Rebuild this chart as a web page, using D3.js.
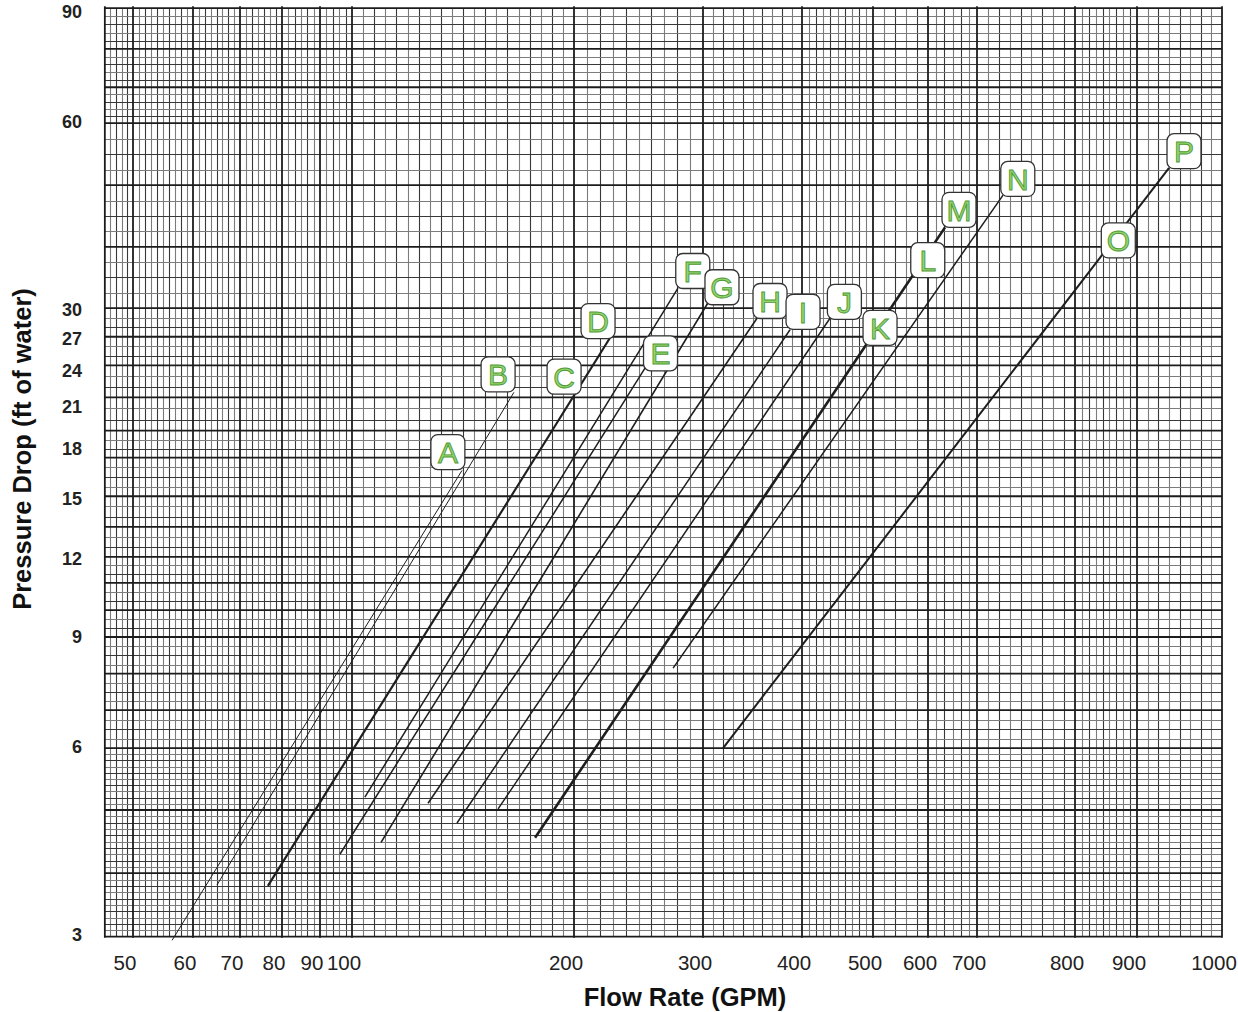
<!DOCTYPE html>
<html>
<head>
<meta charset="utf-8">
<script src="https://cdn.jsdelivr.net/npm/d3@7"></script>
<style>
  body { margin: 0; background: #fff; }
  text { font-family: "Liberation Sans", Arial, sans-serif; }
</style>
</head>
<body>
<div id="chart"></div>
<script>
"use strict";

// axis ticks
var flowTicks = [50, 60, 70, 80, 90, 100, 200, 300, 400, 500, 600, 700, 800, 900, 1000];
var dropTicks = [3, 6, 9, 12, 15, 18, 21, 24, 27, 30, 60, 90];

// graph paper: heavy rulings and the number of fine divisions between them
var paperFlow = [45.9, 50, 60, 70, 80, 90, 100, 200, 300, 400, 500, 600, 700, 800, 900, 1000];
var paperFlowDiv = [5, 10, 8, 7, 6, 5, 20, 10, 10, 10, 5, 6, 9, 9, 8];
var paperDrop = [90.6, 78, 67.7, 59.3, 47.2, 37.6, 30, 27, 24.3, 21.6, 19.1, 17.3, 15, 13.4, 12, 10.9, 9.86, 8.93, 7.8, 6.82, 5.93, 4.72, 3.74, 2.96];
var paperDropDiv = [5, 5, 5, 4, 4, 4, 3, 3, 3, 3, 3, 4, 3, 3, 3, 3, 3, 4, 4, 4, 10, 10, 10];

// curves, start and end point: flow (GPM) / pressure drop (ft)
var curveNames = ["A", "B", "CD", "E", "F", "G", "H", "I", "J", "KLM", "N", "OP"];
var curveFlow = [[56.3, 141.0], [64.9, 165.8], [76.5, 224.0], [96.1, 250.0], [104.1, 277.3], [109.5, 304.4],
                 [126.8, 351.0], [138.8, 386.3], [157.8, 436.8], [177.1, 633.0], [273.1, 725.3], [318.0, 936.5]];
var curveDrop = [[2.92, 16.5], [3.58, 22.0], [3.57, 26.9], [4.01, 24.05], [4.95, 32.3], [4.19, 30.6],
                 [4.84, 28.9], [4.50, 27.7], [4.74, 28.9], [4.26, 40.4], [7.96, 45.5], [5.93, 50.3]];

// letter tags
var tagLetters = ["A", "B", "C", "D", "E", "F", "G", "H", "I", "J", "K", "L", "M", "N", "O", "P"];
var tagFlow = [134.9, 157.8, 193.9, 215.7, 262.5, 290.5, 317, 364.5, 401.3, 457, 511.8, 599.5, 661.5, 740, 868.6, 954];
var tagDrop = [17.65, 23.5, 23.3, 28.6, 25.4, 34.4, 32.4, 30.8, 29.6, 30.7, 27.9, 35.8, 43.1, 48.3, 38.5, 53.5];

// line weights per curve (style)
var weight = { A: 1, B: 1, CD: 2.2, E: 1.5, F: 1.5, G: 1.6, H: 1.6, I: 1.5, J: 1.5, KLM: 2.6, N: 1.5, OP: 2 };

var width = 1238;
var height = 1012;

var svg = d3.select("#chart").append("svg")
    .attr("width", width)
    .attr("height", height);

// printed paper is not an even log scale, so the x scale is piecewise
var xStops = [133, 193, 240, 282, 320, 352, 574, 703, 802, 873, 928, 977, 1075, 1137, 1222];
var x = d3.scaleLog().domain(flowTicks).range(xStops);
var y = d3.scaleLog().domain([3, 90]).range([933, 10]);

var grid = svg.append("g").attr("class", "paper");

// fine rulings
paperFlow.forEach(function(v, i) {
    if (i == paperFlow.length - 1) return;
    var n = paperFlowDiv[i];
    var ip = d3.interpolateNumber(x(v), x(paperFlow[i + 1]));
    for (var k = 1; k < n; k++) {
        var px = Math.round(ip(k / n)) + 0.5;
        grid.append("line")
            .attr("x1", px).attr("x2", px)
            .attr("y1", y(paperDrop[0])).attr("y2", y(paperDrop[paperDrop.length - 1]))
            .attr("stroke", k % 2 ? "#7c7c7c" : "#383838")
            .attr("stroke-width", 1.1);
    }
});
paperDrop.forEach(function(v, i) {
    if (i == paperDrop.length - 1) return;
    var n = paperDropDiv[i];
    var ip = d3.interpolateNumber(y(v), y(paperDrop[i + 1]));
    for (var k = 1; k < n; k++) {
        var py = Math.round(ip(k / n)) + 0.5;
        grid.append("line")
            .attr("x1", x(paperFlow[0])).attr("x2", x(paperFlow[paperFlow.length - 1]))
            .attr("y1", py).attr("y2", py)
            .attr("stroke", k % 2 ? "#7c7c7c" : "#383838")
            .attr("stroke-width", 1.1);
    }
});

// heavy rulings
grid.selectAll("line.vmaj")
    .data(paperFlow)
    .enter().append("line")
    .attr("class", "vmaj")
    .attr("x1", function(d) { return x(d); })
    .attr("x2", function(d) { return x(d); })
    .attr("y1", y(paperDrop[0]) - 2)
    .attr("y2", y(paperDrop[paperDrop.length - 1]) + 1)
    .attr("stroke", "#1c1c1c")
    .attr("stroke-width", 1.8);

grid.selectAll("line.hmaj")
    .data(paperDrop)
    .enter().append("line")
    .attr("class", "hmaj")
    .attr("x1", x(paperFlow[0]))
    .attr("x2", x(paperFlow[paperFlow.length - 1]))
    .attr("y1", function(d) { return y(d); })
    .attr("y2", function(d) { return y(d); })
    .attr("stroke", "#1c1c1c")
    .attr("stroke-width", 1.8);

// curves
var line = d3.line()
    .x(function(d) { return x(d[0]); })
    .y(function(d) { return y(d[1]); });

svg.selectAll("path.curve")
    .data(curveNames)
    .enter().append("path")
    .attr("class", "curve")
    .attr("d", function(name, i) {
        return line(curveFlow[i].map(function(f, j) { return [f, curveDrop[i][j]]; }));
    })
    .attr("fill", "none")
    .attr("stroke", "#1e1e1e")
    .attr("stroke-width", function(name) { return weight[name]; });

// letter tags
var tag = svg.selectAll("g.tag")
    .data(tagLetters)
    .enter().append("g")
    .attr("class", "tag")
    .attr("transform", function(d, i) { return "translate(" + x(tagFlow[i]) + "," + y(tagDrop[i]) + ")"; });

tag.append("rect")
    .attr("x", -17).attr("y", -17.5)
    .attr("width", 34).attr("height", 35)
    .attr("rx", 7)
    .attr("fill", "#fff")
    .attr("stroke", "#333")
    .attr("stroke-width", 1.3);

tag.append("text")
    .attr("text-anchor", "middle")
    .attr("dy", "0.36em")
    .attr("font-size", 30)
    .attr("fill", "#93d46f")
    .attr("stroke", "#4f9a35")
    .attr("stroke-width", 0.9)
    .text(function(d) { return d; });

// tick labels
svg.selectAll("text.xtick")
    .data(flowTicks)
    .enter().append("text")
    .attr("class", "xtick")
    .attr("x", function(d) { return x(d) - 8; })
    .attr("y", 970)
    .attr("text-anchor", "middle")
    .attr("font-size", 20.5)
    .attr("fill", "#222")
    .text(function(d) { return d; });

svg.selectAll("text.ytick")
    .data(dropTicks)
    .enter().append("text")
    .attr("class", "ytick")
    .attr("x", 82)
    .attr("y", function(d) { return y(d) + 2; })
    .attr("dy", "0.35em")
    .attr("text-anchor", "end")
    .attr("font-size", 18)
    .attr("font-weight", "bold")
    .attr("fill", "#222")
    .text(function(d) { return d; });

// axis titles
svg.append("text")
    .attr("x", 685)
    .attr("y", 1006)
    .attr("text-anchor", "middle")
    .attr("font-size", 25.5)
    .attr("font-weight", "bold")
    .attr("fill", "#111")
    .text("Flow Rate (GPM)");

svg.append("text")
    .attr("transform", "translate(31,449) rotate(-90)")
    .attr("text-anchor", "middle")
    .attr("font-size", 25.5)
    .attr("font-weight", "bold")
    .attr("fill", "#111")
    .text("Pressure Drop (ft of water)");
</script>
</body>
</html>
